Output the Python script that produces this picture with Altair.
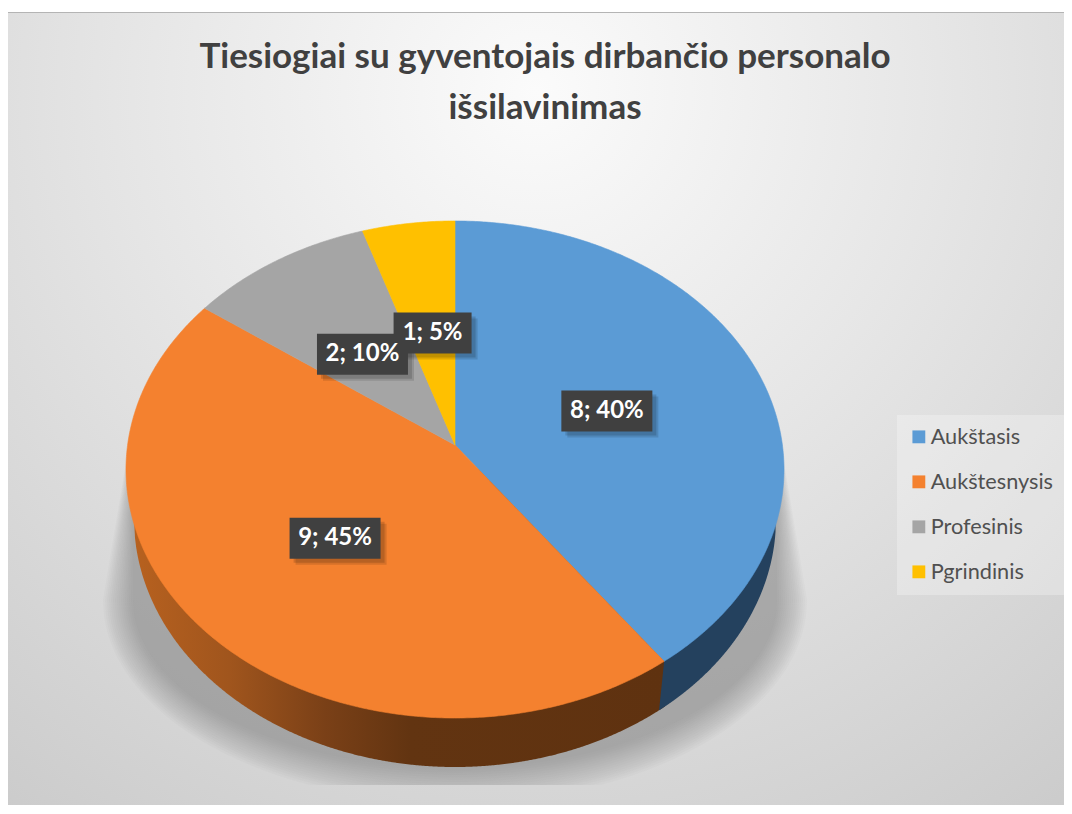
import math
import altair as alt
import pandas as pd

TITLE = ["Tiesiogiai su gyventojais dirbančio personalo", "išsilavinimas"]
categories = ["Aukštasis", "Aukštesnysis", "Profesinis", "Pgrindinis"]
values = [8, 9, 2, 1]
shares = [40, 45, 10, 5]
top_colors = ["#5b9bd5", "#f4812f", "#a5a5a5", "#ffc000"]

# tilted-disc geometry, in reference pixels
CX, AY, C, B, K = 455, 445, 327.4, 246.1, 0.0986
ECY, ERY, ERX = 469.5, 248.5, 329
THICK, LOW_RX = 49, 321
RIGHT, BOTTOM = 1064, 805


def project(frac, r=1.0):
    t = 2 * math.pi * frac
    u, v = r * math.sin(t), r * math.cos(t)
    w = 1 + K * v
    return CX + C * u / w, AY - B * v / w


def wedge_rows(cat, f0, f1):
    n = max(int((f1 - f0) * 720), 4)
    arc = [project(f0 + (f1 - f0) * i / n) for i in range(n + 1)]
    poly = [(CX, AY)] + arc
    xs = sorted({round(p[0], 2) for p in poly})
    rows = []
    edges = list(zip(poly, poly[1:] + poly[:1]))
    for x in xs:
        ys = []
        for (ax, ay), (bx, by) in edges:
            if min(ax, bx) - 0.01 <= x <= max(ax, bx) + 0.01:
                if abs(ax - bx) < 0.02:
                    ys += [ay, by]
                else:
                    ys.append(ay + (by - ay) * (x - ax) / (bx - ax))
        rows.append({"cat": cat, "x": x, "y": min(ys), "y2": max(ys)})
    return rows


total = sum(values)
wedges, label_rows = [], []
nudges = [(-1.5, 3.5), (0, 3), (0, 5), (2, 4)]
cum = 0
for cat, val, pct, (ndx, ndy) in zip(categories, values, shares, nudges):
    f0, f1 = cum / total, (cum + val) / total
    wedges += wedge_rows(cat, f0, f1)
    lx, ly = project((f0 + f1) / 2, 0.5)
    lx, ly = lx + ndx, ly + ndy
    text = f"{val}; {pct}%"
    half = 45.5 if len(text) > 5 else 39
    label_rows.append({"t": text, "x": lx, "y": ly, "x0": lx - half, "x1": lx + half,
                       "y0": ly - 20.5, "y1": ly + 20.5})
    cum += val

xs_scale = alt.Scale(domain=[8, RIGHT], nice=False, zero=False)
ys_scale = alt.Scale(domain=[BOTTOM, 8], nice=False, zero=False)
X = lambda f="x": alt.X(f"{f}:Q", scale=xs_scale, axis=None)
Y = lambda f="y": alt.Y(f"{f}:Q", scale=ys_scale, axis=None, stack=None)

# background
bg = alt.Chart(pd.DataFrame([{"x": 8, "x2": RIGHT, "y": 12, "y2": BOTTOM}])).mark_rect(
    color=alt.Gradient(gradient="radial", x1=0.5, y1=0.2, r1=0.0, x2=0.5, y2=0.2, r2=0.85,
                       stops=[alt.GradientStop(offset=0, color="#fbfbfb"),
                              alt.GradientStop(offset=0.45, color="#e6e6e6"),
                              alt.GradientStop(offset=1, color="#cbcbcb")])
).encode(x=X(), x2="x2:Q", y=Y(), y2="y2:Q")
top_line = alt.Chart(pd.DataFrame([{"x": 8, "x2": RIGHT, "y": 12.5}])).mark_rule(
    color="#b4b4b4", strokeWidth=1).encode(x=X(), x2="x2:Q", y=Y())

# soft shadow
shadow_rows = []
LEVELS = 16
for lev in range(LEVELS):
    t = lev / (LEVELS - 1)
    a, b = 352 - 30 * t, 203 - 35 * t
    for i in range(int(2 * a) + 1):
        x = CX - a + i
        d = abs(x - CX)
        low = min(785, 600 + b * math.sqrt(max(0.0, 1 - (d / a) ** 2)))
        if d < 322 or a <= 322:
            top = ECY
        else:
            top = 420 + (d - 322) / (a - 322) * 180
        shadow_rows.append({"lev": lev, "x": x, "y": top, "y2": low})
shadow = alt.Chart(pd.DataFrame(shadow_rows)).mark_area(
    color="#686b6c", opacity=0.035
).encode(x=X(), y=Y(), y2="y2:Q", detail="lev:N")


def low_rim(x):
    s = max(0.0, 1 - ((x - CX) / LOW_RX) ** 2)
    return ECY + THICK + ERY * math.sqrt(s)


# side walls
seam_x, seam_y = project(values[0] / total)
low_seam_x = CX + (seam_x - CX) * LOW_RX / ERX
grid = [CX - LOW_RX + i for i in range(0, 2 * LOW_RX + 1)]
orange_rows = [{"x": x, "y": ECY, "y2": low_rim(x)} for x in grid if x <= seam_x + 1]
orange_wall = alt.Chart(pd.DataFrame(orange_rows)).mark_area(
    color=alt.Gradient(gradient="linear", x1=0, y1=0, x2=1, y2=0,
                       stops=[alt.GradientStop(offset=0, color="#b7611f"),
                              alt.GradientStop(offset=0.18, color="#a0551d"),
                              alt.GradientStop(offset=0.36, color="#7a4017"),
                              alt.GradientStop(offset=0.52, color="#623411"),
                              alt.GradientStop(offset=1, color="#5f3210")])
).encode(x=X(), y=Y(), y2="y2:Q")
blue_rows = []
for x in [low_seam_x + i * 0.5 for i in range(int((CX + LOW_RX - low_seam_x) * 2) + 1)]:
    if x < seam_x:
        top = low_rim(low_seam_x) + (seam_y - low_rim(low_seam_x)) * (x - low_seam_x) / (seam_x - low_seam_x)
    else:
        top = ECY
    blue_rows.append({"x": x, "y": top, "y2": low_rim(x)})
blue_wall = alt.Chart(pd.DataFrame(blue_rows)).mark_area(color="#24415e").encode(
    x=X(), y=Y(), y2="y2:Q")

# top face
color_scale = alt.Scale(domain=categories, range=top_colors)
faces = alt.Chart(pd.DataFrame(wedges)).mark_area(strokeWidth=0.6).encode(
    x=X(), y=Y(), y2="y2:Q",
    color=alt.Color("cat:N", scale=color_scale, sort=categories, title=None,
                    legend=alt.Legend(orient="none", legendX=889, legendY=407,
                                      fillColor="rgba(255,255,255,0.28)", padding=11,
                                      symbolType="square", symbolSize=165,
                                      symbolStrokeWidth=0, labelFont="Lato",
                                      labelFontSize=21.7, labelColor="#505050",
                                      labelOffset=1, rowPadding=22, labelLimit=200)),
    stroke=alt.Stroke("cat:N", scale=color_scale, sort=categories, legend=None),
    detail="cat:N",
)

# data labels
ldf = pd.DataFrame(label_rows)
sh1 = alt.Chart(ldf).mark_rect(color="#000000", opacity=0.14, xOffset=4, yOffset=4, x2Offset=4, y2Offset=4).encode(
    x=X("x0"), x2="x1:Q", y=Y("y0"), y2="y1:Q")
sh2 = alt.Chart(ldf).mark_rect(color="#000000", opacity=0.12, xOffset=6, yOffset=6, x2Offset=6, y2Offset=6).encode(
    x=X("x0"), x2="x1:Q", y=Y("y0"), y2="y1:Q")
boxes = alt.Chart(ldf).mark_rect(color="#404040").encode(
    x=X("x0"), x2="x1:Q", y=Y("y0"), y2="y1:Q", order=alt.Order("t:N"))
texts = alt.Chart(ldf).mark_text(font="Lato", fontWeight="bold", fontSize=24, color="#ffffff",
                                 align="center", baseline="middle").encode(
    x=X(), y=Y(), text="t:N")

chart = alt.layer(
    bg, top_line, shadow, orange_wall, blue_wall, faces, sh2, sh1, boxes, texts
).properties(
    width=RIGHT - 8, height=BOTTOM - 8,
    title=alt.TitleParams(text=TITLE, font="Lato", fontSize=35, fontWeight="bold", color="#404040",
                          anchor="middle", lineHeight=51, offset=-118, dx=9, baseline="top"),
    autosize=alt.AutoSizeParams(type="none"), padding=0,
).configure_view(stroke=None)

chart.save("out.html", embed_options={"renderer": "svg", "actions": False})
